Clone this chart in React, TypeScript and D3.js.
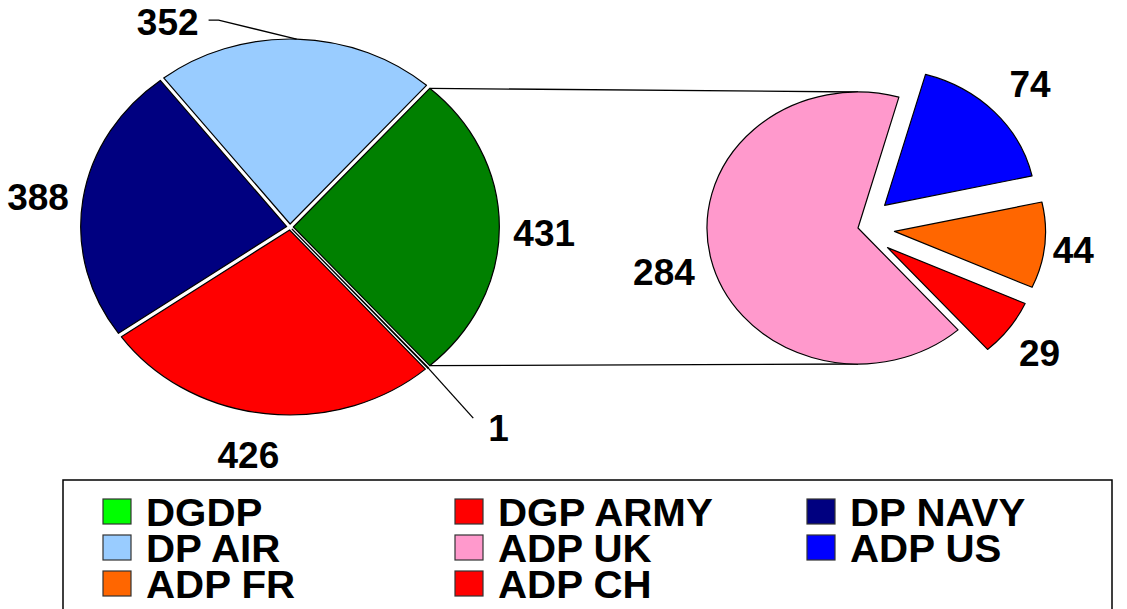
import React from "react";
import * as d3 from "d3";

const leftCats = ["DGDP", "DGP ARMY", "DP NAVY", "DP AIR"];
const leftValues = [1, 426, 388, 352];
const leftColors = ["#00FF00", "#FF0000", "#000080", "#99CCFF"];
const otherColor = "#008000";
const rightCats = ["ADP UK", "ADP US", "ADP FR", "ADP CH"];
const rightValues = [284, 74, 44, 29];
const rightColors = ["#FF99CC", "#0000FF", "#FF6600", "#FF0000"];

// label layout (offset from outer point at mid-angle)
const leftLabelLayout = [
  { dx: 60, dy: 73, anchor: "start", leader: [[45, 50]] },
  { dx: -17, dy: 54, anchor: "middle", leader: [] },
  { dx: -14, dy: 11, anchor: "end", leader: [] },
  { dx: -98, dy: -4, anchor: "end", leader: [[-78, -19], [-88, -19]] },
  { dx: 14, dy: 19, anchor: "start", leader: [] },
];
const rightLabelLayout = [
  { dx: -16, dy: 27, anchor: "end" },
  { dx: 15, dy: -15, anchor: "start" },
  { dx: 8, dy: 18, anchor: "start" },
  { dx: 10, dy: 38, anchor: "start" },
];

const FONT = "'Liberation Sans', Arial, sans-serif";
const deg = Math.PI / 180;

export default function App() {
  const W = 1127, H = 609;
  // left pie
  const c1 = { x: 290, y: 227, r: 185, sx: 206 / 185, d: 3 };
  const otherValue = d3.sum(rightValues);
  const leftAll = [...leftValues, otherValue];
  const leftCols = [...leftColors, otherColor];
  const total1 = d3.sum(leftAll);
  const otherAngle = (otherValue / total1) * 2 * Math.PI;
  const s1 = Math.PI / 2 + otherAngle / 2;
  const pie1 = d3.pie<number>().sort(null).startAngle(s1).endAngle(s1 + 2 * Math.PI)(leftAll);
  const arc1 = d3.arc<any>().innerRadius(0).outerRadius(c1.r);

  // right pie
  const c2 = { x: 858, y: 228, r: 136, sx: 151 / 136, d: 33 };
  const s2 = 138.5 * deg;
  const pie2 = d3.pie<number>().sort(null).startAngle(s2).endAngle(s2 + 2 * Math.PI)(rightValues);
  const arc2 = d3.arc<any>().innerRadius(0).outerRadius(c2.r);

  const mid = (a: any) => (a.startAngle + a.endAngle) / 2;
  const pt = (c: any, m: number, off: number, a: number, rr: number) => [
    c.x + c.sx * (off * Math.sin(m) + rr * Math.sin(a)),
    c.y - (off * Math.cos(m) + rr * Math.cos(a)),
  ];

  const otherArc = pie1[pie1.length - 1];
  const om = mid(otherArc);
  const topCorner = pt(c1, om, c1.d, otherArc.startAngle, c1.r);
  const botCorner = pt(c1, om, c1.d, otherArc.endAngle, c1.r);

  const legendItems = [
    ...leftCats.map((c, i) => ({ name: c, color: leftColors[i] })),
    ...rightCats.map((c, i) => ({ name: c, color: rightColors[i] })),
  ];
  const colX = [103, 455, 807];
  const rowY = [526, 562, 598];

  return (
    <svg width={W} height={H} style={{ position: "fixed", left: 0, top: 0, background: "#fff" }}
      fontFamily={FONT} fontWeight="bold">
      {/* connectors */}
      <line x1={topCorner[0]} y1={topCorner[1]} x2={c2.x} y2={c2.y - c2.r} stroke="#000" strokeWidth={1.3} />
      <line x1={botCorner[0]} y1={botCorner[1]} x2={c2.x} y2={c2.y + c2.r} stroke="#000" strokeWidth={1.3} />
      {/* left pie */}
      <g transform={`translate(${c1.x},${c1.y}) scale(${c1.sx},1)`}>
        {pie1.map((a, i) => {
          const m = mid(a);
          return (
            <path key={i} d={arc1(a) as string}
              transform={`translate(${Math.sin(m) * c1.d},${-Math.cos(m) * c1.d})`}
              fill={leftCols[i]} stroke="#000" strokeWidth={1.2} vectorEffect="non-scaling-stroke"
              strokeLinejoin="round" />
          );
        })}
      </g>
      {/* right pie */}
      <g transform={`translate(${c2.x},${c2.y}) scale(${c2.sx},1)`}>
        {pie2.map((a, i) => {
          const m = mid(a);
          const d = i === 0 ? 0 : c2.d;
          return (
            <path key={i} d={arc2(a) as string}
              transform={`translate(${Math.sin(m) * d},${-Math.cos(m) * d})`}
              fill={rightColors[i]} stroke="#000" strokeWidth={1.2} vectorEffect="non-scaling-stroke"
              strokeLinejoin="round" />
          );
        })}
      </g>
      {/* left labels */}
      {pie1.map((a, i) => {
        const m = mid(a);
        const p = pt(c1, m, c1.d, m, c1.r);
        const L = leftLabelLayout[i];
        const pts = [p, ...L.leader.map(([dx, dy]) => [p[0] + dx, p[1] + dy])];
        return (
          <g key={i}>
            {L.leader.length > 0 && (
              <path d={d3.line()(pts as [number, number][]) as string} fill="none" stroke="#000" strokeWidth={1.3} />
            )}
            <text x={p[0] + L.dx} y={p[1] + L.dy} textAnchor={L.anchor} fontSize={37} fill="#000">
              {leftAll[i]}
            </text>
          </g>
        );
      })}
      {/* right labels */}
      {pie2.map((a, i) => {
        const m = mid(a);
        const d = i === 0 ? 0 : c2.d;
        const p = pt(c2, m, d, m, c2.r);
        const L = rightLabelLayout[i];
        return (
          <text key={i} x={p[0] + L.dx} y={p[1] + L.dy} textAnchor={L.anchor} fontSize={37} fill="#000">
            {rightValues[i]}
          </text>
        );
      })}
      {/* legend */}
      <rect x={63} y={480} width={1049} height={140} fill="none" stroke="#000" strokeWidth={1.5} />
      {legendItems.map((it, i) => {
        const col = i % 3, row = Math.floor(i / 3);
        const tx = colX[col] + 43;
        return (
          <g key={i}>
            <rect x={colX[col]} y={rowY[row] - 27} width={28} height={25} fill={it.color} stroke="#333" strokeWidth={1.2} />
            <text transform={`translate(${tx},${rowY[row]}) scale(1.06,1)`} fontSize={38} fill="#000">{it.name}</text>
          </g>
        );
      })}
    </svg>
  );
}
